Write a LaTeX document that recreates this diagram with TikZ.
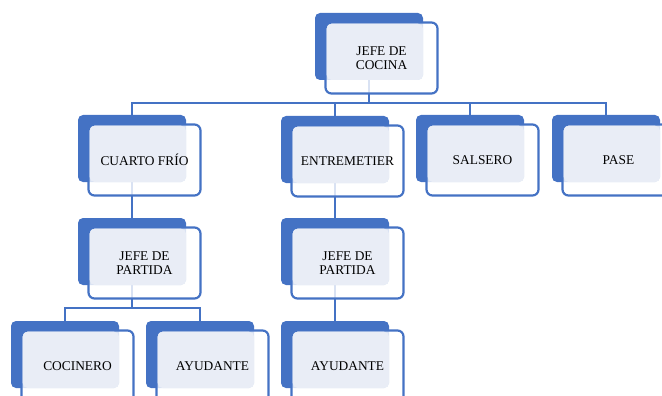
\documentclass[tikz,border=0pt]{standalone}
\usepackage{fontspec}
\setmainfont{Liberation Serif}
\usetikzlibrary{calc}
\definecolor{accent}{HTML}{4472C4}
\definecolor{tint}{HTML}{E9EDF6}
\tikzset{
  backbox/.style={fill=accent, rounded corners=5pt, minimum width=108pt,
    minimum height=67pt, inner sep=0pt, outer sep=0pt},
  framebox/.style={draw=accent, line width=2.2pt, fill=white, fill opacity=0.8,
    rounded corners=6pt},
  tintbox/.style={fill=tint, rounded corners=5pt},
  caption/.style={align=center, inner sep=0pt, text=black,
    font=\fontsize{13.4}{14}\selectfont},
  link/.style={draw=accent, line width=2.8pt},
}
% front card of a unit: outlined frame, tinted panel and the label
\newcommand\frontcard[2]{%
  \draw[framebox] ($(#1.north west)+(10.5,9.5)$) rectangle ($(#1.south east)+(14.5,13.5)$);
  \fill[tintbox] ($(#1.north west)+(11.7,10.7)$) rectangle (#1.south east);
  \node[caption] (#1-t) at ($(#1.center)+(12.5,11.5)$) {#2};
}
\begin{document}
\begin{tikzpicture}[x=1pt, y=-1pt]
\useasboundingbox (0,0) rectangle (662,396);

% back panels
\node[backbox] (cocina)   at (369,46.5) {};
\node[backbox] (frio)     at (132,148.5) {};
\node[backbox] (entre)    at (335,149.5) {};
\node[backbox] (salsero)  at (470,148.5) {};
\node[backbox] (pase)     at (606,148.5) {};
\node[backbox] (jpa)      at (132,251.5) {};
\node[backbox] (jpb)      at (335,251.5) {};
\node[backbox] (cocinero) at (65,354.5) {};
\node[backbox] (ayua)     at (200,354.5) {};
\node[backbox] (ayub)     at (335,354.5) {};

% connectors
\coordinate (bus1) at (0,103);
\coordinate (bus2) at (0,308);
\draw[link] (cocina.south) -- (cocina.south |- bus1);
\draw[link] (frio.north) |- (pase.north |- bus1) -- (pase.north);
\draw[link] (entre.north) -- (entre.north |- bus1);
\draw[link] (salsero.north) -- (salsero.north |- bus1);
\draw[link] (frio.south) -- (jpa.north);
\draw[link] (entre.south) -- (jpb.north);
\draw[link] (jpa.south) -- (jpa.south |- bus2);
\draw[link] (cocinero.north) |- (ayua.north |- bus2) -- (ayua.north);
\draw[link] (jpb.south) -- (ayub.north);

% front cards
\frontcard{cocina}{JEFE DE\\COCINA}
\frontcard{frio}{CUARTO FRÍO}
\frontcard{entre}{ENTREMETIER}
\frontcard{salsero}{SALSERO}
\frontcard{pase}{PASE}
\frontcard{jpa}{JEFE DE\\PARTIDA}
\frontcard{jpb}{JEFE DE\\PARTIDA}
\frontcard{cocinero}{COCINERO}
\frontcard{ayua}{AYUDANTE}
\frontcard{ayub}{AYUDANTE}
\end{tikzpicture}
\end{document}
